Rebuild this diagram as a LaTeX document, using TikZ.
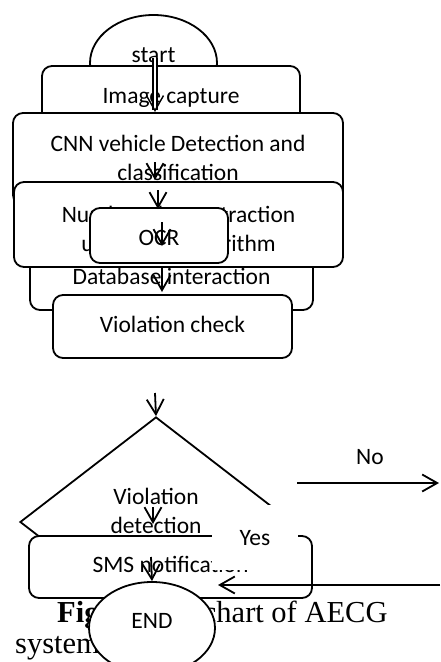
\documentclass[tikz,border=0pt]{standalone}
\usepackage{fontspec}
\setmainfont{Carlito}
\newfontfamily\capfont{Liberation Serif}
\usetikzlibrary{shapes.geometric, arrows.meta}

\tikzset{
  box/.style={draw, line width=1.8pt, rounded corners=10pt, fill=white, inner sep=0pt},
  oval/.style={draw, ellipse, line width=1.8pt, fill=white, inner sep=0pt},
  txt/.style={font=\fontsize{23.5}{29}\selectfont, align=center, inner sep=0pt, anchor=base},
  flow/.style={line width=1.8pt, -{Straight Barb[length=15pt,width=17pt]}},
}

\begin{document}
\begin{tikzpicture}[x=1pt,y=-1pt]
    \useasboundingbox (0,0) rectangle (440,662);
    % caption
    \node[anchor=base west, inner sep=0pt, font=\capfont\fontsize{30.5}{31}\selectfont] (cap1) at (57,622) {\textbf{Fig. 2} Flowchart of AECG};
    \node[anchor=base west, inner sep=0pt, font=\capfont\fontsize{30.5}{31}\selectfont] (cap2) at (15,653) {system};
    % boxes
    \node[oval, minimum width=127pt, minimum height=96pt] (st) at (153.5,63) {};
    \node[txt] (st-t) at (153.5,62) {start};
    \node[box, minimum width=258pt, minimum height=62pt] (img) at (171,97) {};
    \node[txt] (img-t) at (171,103) {Image capture};
    \node[box, minimum width=330pt, minimum height=92pt] (cnn) at (178,159) {};
    \node[txt] (cnn-t) at (178,180) {CNN vehicle Detection and\\classification};
    \node[box, minimum width=283pt, minimum height=70pt] (db) at (171.5,275) {};
    \node[txt] (db-t) at (171.5,284) {Database interaction};
    \node[box, minimum width=329pt, minimum height=85pt] (num) at (178.5,224.5) {};
    \node[txt] (num-t) at (178.5,251) {Number plate extraction\\using OCR algorithm};
    \node[box, minimum width=138pt, minimum height=55pt] (ocr) at (159,235.5) {};
    \node[txt] (ocr-t) at (159,245) {OCR};
    \node[box, minimum width=239pt, minimum height=63pt] (chk) at (172.5,326.5) {};
    \node[txt] (chk-t) at (172.5,332) {Violation check};
    % decision
    \node[draw, diamond, line width=1.8pt, fill=white, inner sep=0pt, minimum width=272pt, minimum height=210pt] (dec) at (156,522) {};
    \node[txt] (dec-t) at (156,533) {Violation\\detection};
    \node[box, minimum width=283pt, minimum height=62pt] (sms) at (170.5,567) {};
    \node[txt] (sms-t) at (170.5,572) {SMS notification};
    \node[fill=white, inner sep=0pt, minimum width=86pt, minimum height=65pt] (yes) at (255,537.5) {};
    \node[txt] (yes-t) at (255,545) {Yes};
    \node[txt] (no-t) at (370,464) {No};
    \node[oval, minimum width=126pt, minimum height=92pt] (end) at (152,628) {};
    \node[txt] (end-t) at (152,628) {END};
    % arrow ends
    \coordinate (a1) at (155,58);   \coordinate (b1) at (155,112);
    \coordinate (a2) at (155,162);  \coordinate (b2) at (155,180);
    \coordinate (a3) at (158,190);  \coordinate (b3) at (158,209);
    \coordinate (a4) at (162,222);  \coordinate (b4) at (162,246);
    \coordinate (a5) at (162,268);  \coordinate (b5) at (162,292);
    \coordinate (a6) at (155,393);
    \coordinate (a7) at (153,507);  \coordinate (b7) at (153,524);
    \coordinate (a8) at (151,557);
    \coordinate (no1) at (297,483); \coordinate (no2) at (439,483);
    \coordinate (ret1) at (440,585); \coordinate (ret2) at (218,585);
    % vertical arrows
    \draw[flow, double, double distance=2.5pt, line width=1.4pt] (a1) -- (b1);
    \draw[flow] (a2) -- (b2);
    \draw[flow] (a3) -- (b3);
    \draw[flow] (a4) -- (b4);
    \draw[flow] (a5) -- (b5);
    \draw[flow] (a6) -- (dec.north);
    \draw[flow] (a7) -- (b7);
    \draw[flow] (a8) -- (end.north);
    % horizontal arrows
    \draw[flow] (no1) -- (no2);
    \draw[flow] (ret1) -- (ret2);
\end{tikzpicture}
\end{document}
